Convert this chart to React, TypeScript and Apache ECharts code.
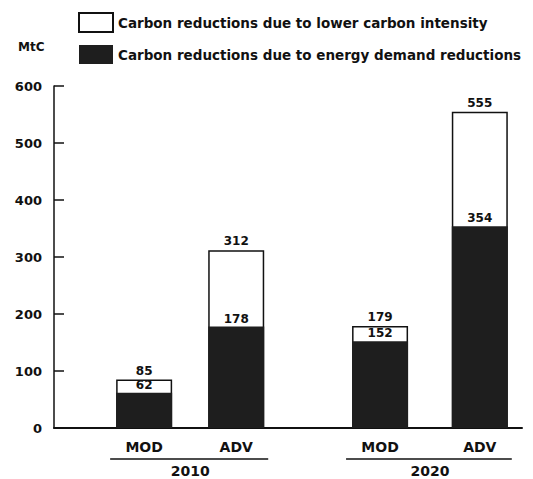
import React, { useEffect, useRef } from "react";
import * as echarts from "echarts";

const barLabels = ["MOD", "ADV", "MOD", "ADV"];
const years = ["2010", "2020"];
const demandReductions = [62, 178, 152, 354];
const totalReductions = [85, 312, 179, 555];
const yTicks = [0, 100, 200, 300, 400, 500, 600];
const legendNames = [
  "Carbon reductions due to lower carbon intensity",
  "Carbon reductions due to energy demand reductions",
];

// layout: slot position of each bar on the x value axis
const slots = [0, 0.96, 2.46, 3.5];
const yearSlots = [0.48, 2.98];

export default function App() {
  const ref = useRef<HTMLDivElement>(null);
  useEffect(() => {
    document.body.style.margin = "0";
    if (!ref.current) return;
    const chart = echarts.init(ref.current, null, { renderer: "svg" });
    const font = "DejaVu Sans";
    chart.setOption({
      animation: false,
      textStyle: { fontFamily: font },
      legend: {
        orient: "vertical",
        left: 73,
        top: 7,
        itemWidth: 34,
        itemHeight: 19,
        itemGap: 12,
        icon: "rect",
        data: legendNames,
        textStyle: { fontSize: 13.5, fontWeight: "bold", color: "#111", fontFamily: font },
      },
      grid: { left: 54, right: 11, top: 86, bottom: 51 },
      xAxis: [
        {
          type: "value",
          min: -0.94,
          max: 3.94,
          splitLine: { show: false },
          axisLine: { lineStyle: { color: "#111", width: 2 } },
          axisTick: { show: false },
          axisLabel: {
            customValues: slots,
            formatter: (v: number) => {
              const i = slots.findIndex((s) => Math.abs(s - v) < 1e-6);
              return i >= 0 ? barLabels[i] : "";
            },
            margin: 12,
            fontSize: 14,
            fontWeight: "bold",
            color: "#111",
          },
        },
        {
          type: "value",
          position: "bottom",
          offset: 25,
          min: -0.94,
          max: 3.94,
          splitLine: { show: false },
          axisLine: { show: false },
          axisTick: { show: false },
          axisLabel: {
            customValues: yearSlots,
            formatter: (v: number) => {
              const i = yearSlots.findIndex((s) => Math.abs(s - v) < 1e-6);
              return i >= 0 ? years[i] : "";
            },
            margin: 11,
            fontSize: 14,
            fontWeight: "bold",
            color: "#111",
          },
        },
      ],
      yAxis: {
        type: "value",
        min: 0,
        max: 600,
        interval: 100,
        splitLine: { show: false },
        axisLine: { show: true, onZero: false, lineStyle: { color: "#111", width: 1.5 } },
        axisTick: { show: true, inside: true, length: 10, lineStyle: { color: "#111", width: 1.5 } },
        axisLabel: {
          margin: 12,
          fontSize: 13,
          fontWeight: "bold",
          color: "#111",
          formatter: (v: number) => (yTicks.includes(v) ? String(v) : ""),
        },
      },
      series: [
        {
          name: legendNames[0],
          type: "bar",
          barWidth: 56,
          barGap: "-100%",
          itemStyle: { color: "#ffffff", borderColor: "#111", borderWidth: 1.5 },
          data: totalReductions.map((v, i) => [slots[i], v]),
          label: {
            show: true,
            position: "top",
            distance: 3,
            fontSize: 12,
            fontWeight: "bold",
            color: "#111",
          },
        },
        {
          name: legendNames[1],
          type: "bar",
          barWidth: 56,
          barGap: "-100%",
          itemStyle: { color: "#1e1e1e" },
          data: demandReductions.map((v, i) => [slots[i], v]),
          label: {
            show: true,
            position: "top",
            distance: 2,
            fontSize: 12,
            fontWeight: "bold",
            color: "#111",
          },
        },
      ],
    });
    const px = (v: number) => chart.convertToPixel({ xAxisIndex: 0 }, v) as number;
    const lineY = 459;
    const groups = [
      [slots[0], slots[1]],
      [slots[2], slots[3]],
    ];
    chart.setOption({
      graphic: [
        {
          type: "text",
          left: 18,
          top: 41,
          style: { text: "MtC", fontSize: 12, fontWeight: "bold", fill: "#111", fontFamily: font },
        },
        ...groups.map((g) => ({
          type: "line",
          shape: { x1: px(g[0]) - 34, y1: lineY, x2: px(g[1]) + 32, y2: lineY },
          style: { stroke: "#111", lineWidth: 1.5 },
        })),
      ],
    });
    return () => chart.dispose();
  }, []);
  return <div ref={ref} style={{ width: 533, height: 479 }} />;
}
